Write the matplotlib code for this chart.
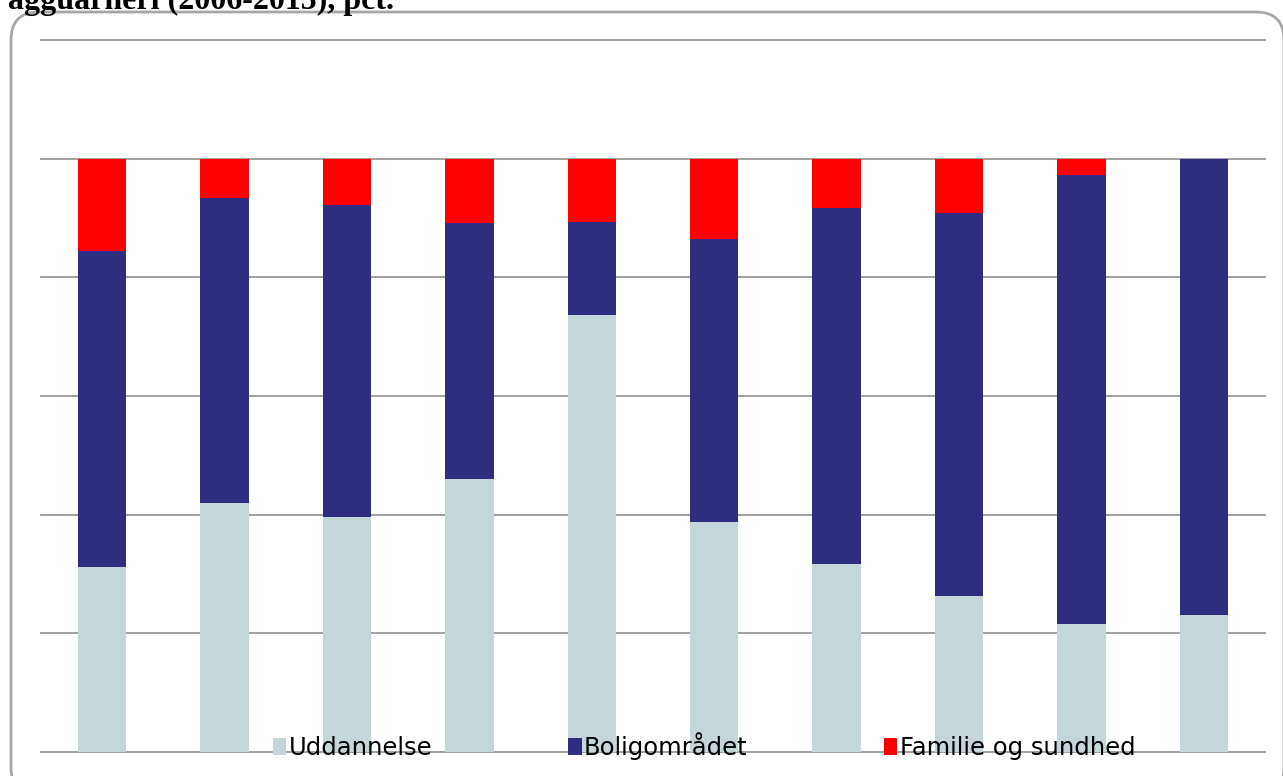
import matplotlib.pyplot as plt
from matplotlib.patches import FancyBboxPatch
import numpy as np

# andele i pct.
groups = ['1', '2', '3', '4', '5', '6', '7', '8', '9', '10']
uddannelse = [31.2, 42.0, 39.6, 46.0, 73.7, 38.8, 31.7, 26.3, 21.6, 23.1]
bolig = [53.3, 51.4, 52.6, 43.2, 15.7, 47.7, 60.0, 64.6, 75.7, 76.9]
familie = [15.5, 6.6, 7.8, 10.8, 10.6, 13.5, 8.3, 9.1, 2.7, 0.0]

W, H = 1283, 776
fig = plt.figure(figsize=(W / 100, H / 100), dpi=100)

# afrundet ramme rundt om diagrammet (pixelkoordinater)
box = FancyBboxPatch((11, -20), 1273, 764 + 20, boxstyle="round,pad=0,rounding_size=28",
                     transform=None, facecolor='none', edgecolor='#a6a6a6', linewidth=2,
                     zorder=-1)
fig.patches.append(box)

fig.text(8 / W, 1 - 9.5 / H, 'agguarneri (2006-2015), pct.', ha='left', va='baseline',
         fontsize=23, fontweight='bold', family='Liberation Serif')

ax = fig.add_axes([41 / W, 1 - 752 / H, (1265 - 41) / W, (752 - 40) / H])
ax.set_facecolor('none')

x = np.arange(len(groups))
u = np.array(uddannelse)
b = np.array(bolig)
f = np.array(familie)
width = 0.395
ax.bar(x, u, width, color='#c4d6d9', label='Uddannelse', zorder=3)
ax.bar(x, b, width, bottom=u, color='#2e2d80', label='Boligområdet', zorder=3)
ax.bar(x, f, width, bottom=u + b, color='#ff0000', label='Familie og sundhed', zorder=3)

ax.set_xlim(-0.5, len(groups) - 0.5)
ax.set_ylim(0, 120)
ax.set_yticks(np.arange(0, 121, 20))
ax.yaxis.grid(True, color='#a0a0a0', linewidth=1.4)
for line in ax.get_ygridlines():
    line.set_clip_on(False)
ax.set_axisbelow(True)
for s in ax.spines.values():
    s.set_visible(False)
ax.tick_params(left=False, bottom=False, labelleft=False, labelbottom=False)

fig.legend(loc='center', bbox_to_anchor=(704 / W, 1 - 746 / H), ncol=3, frameon=False,
           prop={'family': 'DejaVu Sans', 'size': 17.5}, handlelength=0.55, handleheight=0.65,
           handletextpad=0.1, columnspacing=5.6, borderpad=0)

fig.savefig('out.png', dpi=100)
